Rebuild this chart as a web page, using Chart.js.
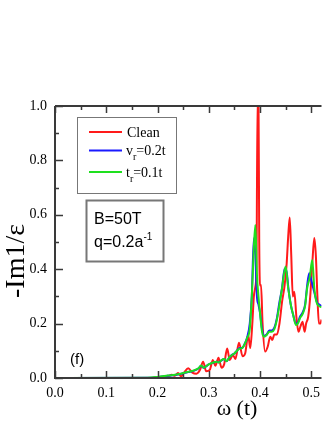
<!DOCTYPE html>
<html>
<head>
<meta charset="utf-8">
<script src="https://cdn.jsdelivr.net/npm/chart.js@4/dist/chart.umd.min.js"></script>
<style>
  body{margin:0;background:#fff;}
  #wrap{width:327px;height:423px;}
</style>
</head>
<body>
<div id="wrap"><canvas id="canvas" width="327" height="423"></canvas></div>
<script>
// x ticks / y ticks
const xTicks=[0,0.1,0.2,0.3,0.4,0.5]
const yTicks=[0,0.2,0.4,0.6,0.8,1.0]

// Clean
const xClean=[0,0.18,0.2,0.21,0.22,0.228,0.234,0.24,0.246,0.252,0.26,0.268,0.276,0.283,0.289,0.295,0.302,0.308,0.313,0.319,0.325,0.33,0.336,0.341,0.347,0.352,0.359,0.366,0.371,0.377,0.381,0.385,0.388,0.391,0.393,0.3955,0.397,0.3985,0.4,0.402,0.405,0.41,0.415,0.42,0.424,0.428,0.433,0.438,0.443,0.448,0.452,0.455,0.458,0.461,0.464,0.467,0.471,0.475,0.479,0.483,0.487,0.49,0.494,0.498,0.502,0.506,0.509,0.512,0.515,0.518,0.52]
const yClean=[0,0,0.002,0.004,0.006,0.012,0.008,0.018,0.006,0.02,0.036,0.02,0.016,0.03,0.06,0.025,0.03,0.066,0.045,0.074,0.038,0.05,0.108,0.066,0.085,0.07,0.13,0.08,0.09,0.158,0.11,0.2,0.3,0.336,0.4,1.05,1.05,0.5,0.34,0.342,0.2,0.097,0.115,0.152,0.14,0.16,0.16,0.2,0.28,0.34,0.42,0.52,0.59,0.45,0.3,0.317,0.225,0.17,0.19,0.207,0.17,0.2,0.225,0.3,0.42,0.515,0.45,0.3,0.2,0.2,0.215]

// v_r=0.2t
const xVr=[0,0.18,0.2,0.22,0.24,0.26,0.27,0.28,0.285,0.29,0.3,0.31,0.315,0.32,0.325,0.33,0.335,0.34,0.345,0.35,0.355,0.36,0.365,0.37,0.375,0.38,0.384,0.388,0.391,0.394,0.397,0.4,0.404,0.408,0.413,0.418,0.423,0.428,0.433,0.438,0.443,0.448,0.452,0.456,0.46,0.465,0.47,0.474,0.478,0.483,0.488,0.492,0.496,0.5,0.504,0.508,0.512,0.516,0.52]
const yVr=[0,0.001,0.003,0.008,0.013,0.022,0.026,0.035,0.045,0.038,0.05,0.057,0.06,0.058,0.065,0.07,0.062,0.075,0.085,0.09,0.1,0.11,0.11,0.125,0.15,0.2,0.3,0.514,0.45,0.3,0.27,0.24,0.18,0.155,0.16,0.175,0.175,0.185,0.22,0.28,0.33,0.403,0.39,0.32,0.27,0.23,0.2,0.205,0.225,0.24,0.27,0.34,0.385,0.36,0.33,0.3,0.275,0.27,0.265]

// t_r=0.1t
const xTr=[0,0.18,0.2,0.22,0.24,0.26,0.27,0.28,0.285,0.29,0.3,0.31,0.315,0.32,0.325,0.33,0.335,0.34,0.345,0.35,0.355,0.36,0.365,0.37,0.375,0.38,0.384,0.388,0.391,0.394,0.397,0.4,0.404,0.408,0.413,0.418,0.423,0.428,0.433,0.438,0.443,0.45,0.455,0.46,0.465,0.47,0.474,0.478,0.483,0.488,0.492,0.497,0.502,0.506,0.51,0.515,0.52]
const yTr=[0,0.001,0.004,0.009,0.014,0.023,0.027,0.036,0.046,0.038,0.05,0.058,0.06,0.057,0.066,0.07,0.062,0.076,0.084,0.09,0.1,0.108,0.11,0.124,0.148,0.18,0.3,0.48,0.5625,0.38,0.3,0.24,0.17,0.152,0.158,0.17,0.17,0.18,0.215,0.27,0.33,0.41,0.33,0.27,0.23,0.195,0.2,0.22,0.235,0.265,0.33,0.37,0.434,0.33,0.28,0.265,0.26]

function pts(xs,ys){ return xs.map((x,i)=>({x:x,y:ys[i]})) }

const axisCol='#3a3a3a'
const serif='"Liberation Serif", "DejaVu Serif", serif'
const sans='"Liberation Sans", Arial, sans-serif'

const decor={
  id:'decor',
  afterDatasetsDraw(chart){
    const ctx=chart.ctx
    const a=chart.chartArea
    const xs=chart.scales.x, ys=chart.scales.y
    ctx.save()
    // axis lines
    ctx.strokeStyle=axisCol
    ctx.lineWidth=2
    ctx.beginPath()
    ctx.moveTo(a.left,a.top); ctx.lineTo(a.right,a.top)
    ctx.moveTo(a.left,a.top); ctx.lineTo(a.left,a.bottom)
    ctx.moveTo(a.left-1,a.bottom); ctx.lineTo(a.right,a.bottom)
    ctx.stroke()
    // inward ticks
    ctx.lineWidth=1.5
    ctx.beginPath()
    for(let v=0;v<=0.52;v+=0.05){
      const px=Math.round(xs.getPixelForValue(v))+0.5
      const major=Math.abs(v*10-Math.round(v*10))<1e-6
      const len=major?7:4
      ctx.moveTo(px,a.bottom); ctx.lineTo(px,a.bottom-len)
      ctx.moveTo(px,a.top); ctx.lineTo(px,a.top+len)
    }
    for(let v=0;v<=1.0001;v+=0.1){
      const py=Math.round(ys.getPixelForValue(v))+0.5
      const major=Math.abs(v*5-Math.round(v*5))<1e-6
      const len=major?8:4
      ctx.moveTo(a.left,py); ctx.lineTo(a.left+len,py)
    }
    ctx.stroke()

    // legend box
    ctx.strokeStyle='#777'
    ctx.lineWidth=1
    ctx.strokeRect(77.5,117.5,99,76)
    const ds=chart.data.datasets
    const rows=[132,150.5,172]
    ctx.fillStyle='#000'
    ctx.textBaseline='alphabetic'
    rows.forEach((y,i)=>{
      ctx.strokeStyle=ds[i].borderColor
      ctx.lineWidth=2
      ctx.beginPath(); ctx.moveTo(89,y); ctx.lineTo(122,y); ctx.stroke()
    })
    ctx.font='14px '+serif
    ctx.fillText('Clean',127,137)
    let x=126
    ctx.fillText('v',x,155); x+=ctx.measureText('v').width
    ctx.font='10px '+serif; ctx.fillText('r',x,160); x+=ctx.measureText('r').width
    ctx.font='14px '+serif; ctx.fillText('=0.2t',x,155)
    x=126
    ctx.fillText('t',x,177); x+=ctx.measureText('t').width
    ctx.font='10px '+serif; ctx.fillText('r',x,182); x+=ctx.measureText('r').width
    ctx.font='14px '+serif; ctx.fillText('=0.1t',x,177)

    // info box
    ctx.strokeStyle='#777'
    ctx.strokeRect(86.5,200.5,77,61)
    ctx.font='16px '+sans
    ctx.fillText('B=50T',94,224)
    ctx.fillText('q=0.2a',94,247)
    x=94+ctx.measureText('q=0.2a').width
    ctx.font='10px '+sans
    ctx.fillText('-1',x,240)

    ctx.font='15px '+sans
    ctx.fillText('(f)',70,364)

    // axis titles
    ctx.font='22px '+serif
    ctx.textAlign='center'
    ctx.fillText('\u03c9 (t)',237,415)
    ctx.save()
    ctx.translate(24,261)
    ctx.rotate(-Math.PI/2)
    ctx.font='28px '+serif
    ctx.fillText('-Im1/\u03b5',0,0)
    ctx.restore()
    ctx.restore()
  }
}

function keepTicks(list){
  return function(scale){
    scale.ticks=list.map(v=>({value:v}))
  }
}

new Chart(document.getElementById('canvas').getContext('2d'),{
  type:'line',
  data:{
    datasets:[
      {label:'Clean',data:pts(xClean,yClean),borderColor:'#ff1a1a',order:2},
      {label:'v_r=0.2t',data:pts(xVr,yVr),borderColor:'#1a1aff',order:1},
      {label:'t_r=0.1t',data:pts(xTr,yTr),borderColor:'#1ee01e',order:0}
    ]
  },
  options:{
    responsive:false,
    animation:false,
    devicePixelRatio:1,
    layout:{padding:{top:106,right:0,left:0,bottom:0}},
    elements:{
      point:{radius:0},
      line:{borderWidth:2,cubicInterpolationMode:'monotone',fill:false}
    },
    plugins:{legend:{display:false},tooltip:{enabled:false},title:{display:false}},
    scales:{
      x:{
        type:'linear',min:0,max:0.52,
        grid:{display:false,drawTicks:false,tickLength:0},border:{display:false},
        afterBuildTicks:keepTicks(xTicks),
        afterFit(s){s.height=45},
        ticks:{padding:7,color:'#000',font:{family:serif,size:14},callback:v=>v.toFixed(1),maxRotation:0,autoSkip:false}
      },
      y:{
        type:'linear',min:0,max:1.0,
        grid:{display:false,drawTicks:false,tickLength:0},border:{display:false},
        afterBuildTicks:keepTicks(yTicks),
        afterFit(s){s.width=55},
        ticks:{padding:8,color:'#000',font:{family:serif,size:14},callback:v=>v.toFixed(1)}
      }
    }
  },
  plugins:[decor]
})
</script>
</body>
</html>
